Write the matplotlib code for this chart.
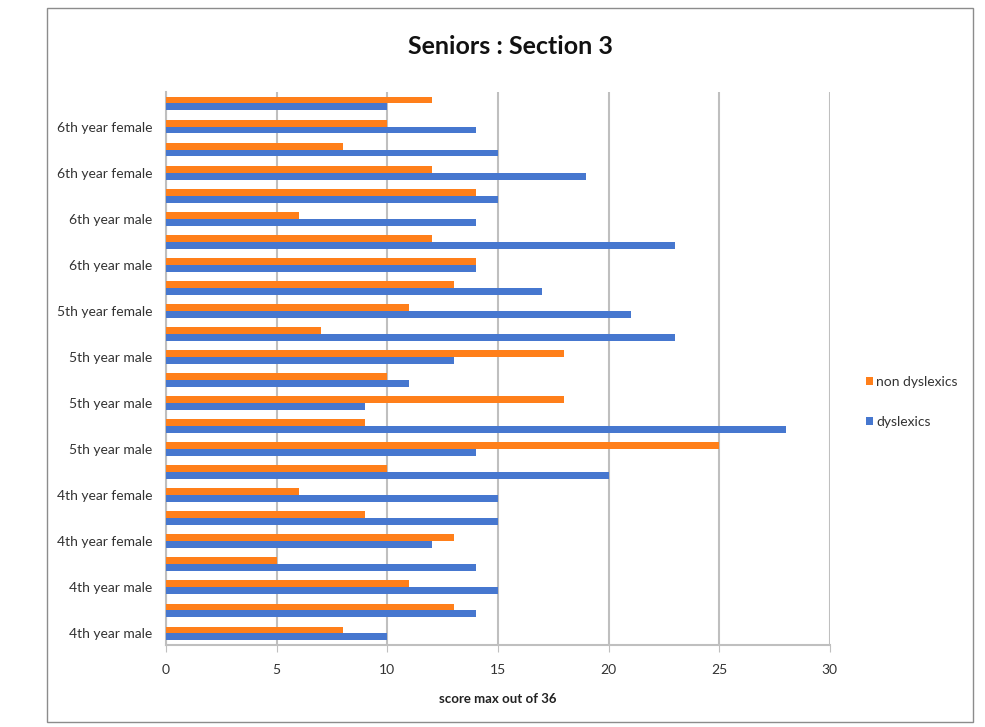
import matplotlib
matplotlib.use('Agg')
import matplotlib.pyplot as plt
from matplotlib.patches import Rectangle
import numpy as np

plt.rcParams['font.family'] = ['Lato', 'DejaVu Sans']

# categories listed bottom to top; only every other one gets a tick label
categories = [
    '4th year male', '4th year male', '4th year male', '4th year male',
    '4th year female', '4th year female', '4th year female', '4th year female',
    '5th year male', '5th year male', '5th year male', '5th year male',
    '5th year male', '5th year male', '5th year female', '5th year female',
    '6th year male', '6th year male', '6th year male', '6th year male',
    '6th year female', '6th year female', '6th year female', '6th year female',
]
non_dyslexics = [8, 13, 11, 5, 13, 9, 6, 10, 25, 9, 18, 10,
                 18, 7, 11, 13, 14, 12, 6, 14, 12, 8, 10, 12]
dyslexics = [10, 14, 15, 14, 12, 15, 15, 20, 14, 28, 9, 11,
             13, 23, 21, 17, 14, 23, 14, 15, 19, 15, 14, 10]

orange = '#FF7F1A'
blue = '#4677CF'
grid_grey = '#BFBFBF'

fig = plt.figure(figsize=(9.85, 7.27), dpi=100)
fig.patches.append(Rectangle((47 / 985, 1 - 722 / 727), 926 / 985, 714 / 727,
                             transform=fig.transFigure, fill=False,
                             edgecolor='#8C8C8C', linewidth=1.0))

ax = fig.add_axes([0.1685, 0.1128, 0.674, 0.7607])
y = np.arange(len(categories))
h = 0.3
ax.barh(y + h / 2, non_dyslexics, height=h, color=orange, label='non dyslexics', zorder=3)
ax.barh(y - h / 2, dyslexics, height=h, color=blue, label='dyslexics', zorder=3)

ax.set_xlim(0, 30)
ax.set_ylim(-0.5, len(categories) - 0.5)
ax.set_xticks(range(0, 31, 5))
ax.set_yticks(y[::2])
ax.set_yticklabels(categories[::2], fontsize=10, color='#333333')
ax.tick_params(axis='x', labelsize=10, colors='#333333', length=5,
               color=grid_grey, pad=9)
ax.tick_params(axis='y', length=0, pad=10)
ax.grid(axis='x', color=grid_grey, linewidth=1.5, zorder=0)

for side in ['top', 'right']:
    ax.spines[side].set_visible(False)
for side in ['left', 'bottom']:
    ax.spines[side].set_color(grid_grey)
    ax.spines[side].set_linewidth(1.5)

ax.set_xlabel('score max out of 36', fontsize=9.5, fontweight='bold',
              color='#222222', labelpad=12)
fig.text(0.5 * (166 + 854) / 985, 1 - 46 / 727, 'Seniors : Section 3',
         ha='center', va='center', fontsize=18, fontweight='bold', color='#111111')

leg = fig.legend(loc='center left', bbox_to_anchor=(853 / 985, 1 - 402 / 727),
                 frameon=False, fontsize=10, handlelength=0.55, handleheight=0.55,
                 handletextpad=0.2, labelspacing=2.0)
for t in leg.get_texts():
    t.set_color('#333333')

fig.savefig('out.png', dpi=100)
